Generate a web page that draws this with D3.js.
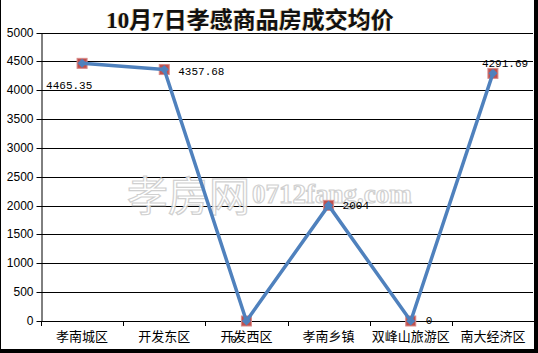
<!DOCTYPE html>
<html><head><meta charset="utf-8">
<script src="https://cdn.jsdelivr.net/npm/d3@7/dist/d3.min.js"></script>
<style>html,body{margin:0;padding:0;background:#fff;}svg{display:block;}</style>
</head><body>
<svg id="c" width="538" height="353"></svg>
<script>
(function(){
const title = "10月7日孝感商品房成交均价";
const categories = ["孝南城区","开发东区","开发西区","孝南乡镇","双峰山旅游区","南大经济区"];
const values = [4465.35, 4357.68, 0, 2004, 0, 4291.69];
const labels = ["4465.35","4357.68","0","2004","0","4291.69"];
const yTicks = [0,500,1000,1500,2000,2500,3000,3500,4000,4500,5000];

const svg = d3.select("#c");
const W = 538, H = 353;
svg.append("rect").attr("width",W).attr("height",H).attr("fill","#fff");

const pLeft = 41, pRight = 533, pTop = 32.5, pBottom = 321;
const x = d3.scaleBand().domain(categories).range([pLeft, pRight+1]);
const y = d3.scaleLinear().domain([0,5000]).range([pBottom, pTop]);

// gridlines
svg.append("g").selectAll("line").data(yTicks.filter(d=>d>0)).join("line")
  .attr("x1",pLeft).attr("x2",pRight).attr("y1",d=>Math.round(y(d))+0.5).attr("y2",d=>Math.round(y(d))+0.5)
  .attr("stroke","#000").attr("stroke-width",1);

// watermark
const wm = svg.append("g").attr("fill","#fff").attr("stroke","#cccccc").attr("stroke-width",1.2).attr("opacity",0.9);
wm.append("text").attr("x",127).attr("y",211).attr("font-family","Noto Sans CJK SC").attr("font-size",41)
  .text("孝房网");
wm.append("text").attr("x",252).attr("y",203).attr("font-family","Liberation Serif").attr("font-size",27)
  .attr("font-weight",700).text("0712fang.com");

// y axis
const ya = svg.append("g").attr("transform",`translate(${pLeft+0.5},0)`)
  .call(d3.axisLeft(y).tickValues(yTicks).tickSize(5).tickSizeOuter(0).tickFormat(d3.format("d")));
ya.select(".domain").attr("stroke","#000");
ya.selectAll(".tick line").attr("stroke","#000");
ya.selectAll(".tick text").attr("font-family","Liberation Sans, Arial").attr("font-size",12).attr("fill","#000").attr("x",-8);
ya.selectAll(".tick").attr("transform",d=>`translate(0,${Math.round(y(d))+0.5})`);

// x axis
svg.append("line").attr("x1",pLeft).attr("x2",pRight+1).attr("y1",pBottom+0.5).attr("y2",pBottom+0.5).attr("stroke","#000");
const bounds = categories.map(c=>x(c)).concat([x(categories[categories.length-1])+x.bandwidth()]);
svg.append("g").selectAll("line").data(bounds).join("line")
  .attr("x1",d=>Math.round(d)+0.5).attr("x2",d=>Math.round(d)+0.5).attr("y1",pBottom).attr("y2",pBottom+5)
  .attr("stroke","#000");
svg.append("g").selectAll("text").data(categories).join("text")
  .attr("x",d=>x(d)+x.bandwidth()/2).attr("y",341).attr("text-anchor","middle")
  .attr("font-family","Noto Sans CJK SC").attr("font-size",13).attr("fill","#000").text(d=>d);

const cx = (d,i)=>x(categories[i])+x.bandwidth()/2;
// square markers
svg.append("g").selectAll("rect").data(values).join("rect")
  .attr("x",(d,i)=>cx(d,i)-5).attr("y",d=>y(d)-5).attr("width",10).attr("height",10)
  .attr("fill","#c0504d").attr("stroke","#d98b89").attr("stroke-width",1);
// line
svg.append("path").datum(values)
  .attr("d",d3.line().x((d,i)=>cx(d,i)).y(d=>y(d)))
  .attr("fill","none").attr("stroke","#4f81bd").attr("stroke-width",3.5).attr("stroke-linejoin","round");
// diamonds
svg.append("g").selectAll("path").data(values).join("path")
  .attr("transform",(d,i)=>`translate(${cx(d,i)},${y(d)})`)
  .attr("d",d3.symbol(d3.symbolDiamond2,52)).attr("fill","#4f81bd");

// data labels
const lblPos = [[-36,26],[14,5],[-16,22],[14,4],[15,3],[-11,-6]];
svg.append("g").selectAll("text").data(values).join("text")
  .attr("x",(d,i)=>cx(d,i)+lblPos[i][0]).attr("y",(d,i)=>y(d)+lblPos[i][1])
  .attr("font-family","Liberation Mono, DejaVu Sans Mono").attr("font-size",11).attr("fill","#000")
  .text((d,i)=>labels[i]);

// title
svg.append("text").attr("x",250).attr("y",28).attr("text-anchor","middle")
  .attr("font-family","Liberation Serif, Noto Sans CJK SC").attr("font-size",23).attr("font-weight",700)
  .attr("fill","#c89a3a").attr("opacity",0.5).attr("dx",-1).text(title);
svg.append("text").attr("x",250).attr("y",28).attr("text-anchor","middle")
  .attr("font-family","Liberation Serif, Noto Sans CJK SC").attr("font-size",23).attr("font-weight",700)
  .attr("fill","#111").text(title);

// border
svg.append("line").attr("x1",0.5).attr("x2",0.5).attr("y1",0).attr("y2",H).attr("stroke","#000");
svg.append("rect").attr("x",534).attr("y",0).attr("width",4).attr("height",H).attr("fill","#000");
svg.append("rect").attr("x",0).attr("y",349).attr("width",W).attr("height",4).attr("fill","#000");
})();
</script>
</body></html>
